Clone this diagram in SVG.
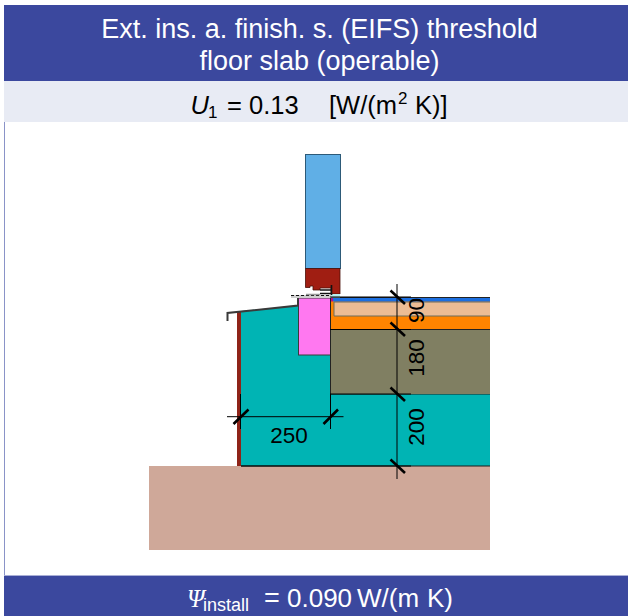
<svg xmlns="http://www.w3.org/2000/svg" width="628" height="616" viewBox="0 0 628 616">
<style>
.t{font-family:"Liberation Sans",Arial,sans-serif;font-size:27px;fill:#fff}
.k{font-family:"Liberation Sans",Arial,sans-serif;font-size:25.500px;fill:#000}
.d{font-family:"Liberation Sans",Arial,sans-serif;font-size:22.500px;fill:#000}
.l{stroke:#000;stroke-width:1;fill:none}
.x{stroke:#000;stroke-width:2.600;fill:none}
</style>
<rect width="628" height="616" fill="#fff"/>
<g id="frame">
<rect x="4" y="5" width="624" height="76" fill="#3b489e"/>
<rect x="4" y="81" width="624" height="41" fill="#e8ebf4"/>
<rect x="4" y="122" width="1" height="454" fill="#8a93c8"/>
<rect x="4" y="576" width="624" height="40" fill="#3b489e"/>
<rect x="4" y="575" width="624" height="1" fill="#a9afd6"/>
</g>
<g id="title">
<text class="t" x="319.500" y="38" text-anchor="middle">Ext. ins. a. finish. s. (EIFS) threshold</text>
<text class="t" x="319.500" y="70" text-anchor="middle">floor slab (operable)</text>
</g>
<g id="u-value">
<text class="k" x="190.500" y="114" font-style="italic">U</text>
<text class="k" x="208" y="118" style="font-size:17px">1</text>
<text class="k" x="227" y="114">= 0.13</text>
<text class="k" x="329" y="114">[W/(m</text>
<text class="k" x="398" y="104" style="font-size:17px">2</text>
<text class="k" x="415" y="114">K)]</text>
</g>
<g id="ground"><rect x="149" y="466" width="341" height="84" fill="#cfa899"/></g>
<g id="insulation-teal">
<path d="M241 311L298 305.500V355H330V394H490V466H241Z" fill="#00b4b4"/>
<path d="M241 466H490M330.500 394H490" stroke="#1d1d1d" stroke-width="1" fill="none"/>
</g>
<g id="wall-strip"><rect x="237" y="311" width="4" height="155" fill="#8e2318"/></g>
<g id="sill"><path d="M227.500 321V313L298 305.500V298" fill="none" stroke="#3a3a3a" stroke-width="2"/></g>
<g id="pink-block"><rect x="298.500" y="298" width="32" height="57" fill="#ff78f0" stroke="#3a3a3a" stroke-width="1"/></g>
<g id="floor-layers">
<rect x="330.500" y="329" width="159.500" height="65" fill="#807f62"/>
<rect x="330.500" y="298" width="159.500" height="31" fill="#ff8400"/>
<path d="M490 302H334V316H490" fill="#ecbc94" stroke="#6d6d5c" stroke-width="1"/>
<rect x="333" y="298" width="157" height="3.500" fill="#1d6fe0"/>
<path d="M330.500 297.500H490M330.500 298V394M330.500 329.500H490" stroke="#222" stroke-width="1" fill="none"/>
<rect x="331" y="298" width="2" height="3.500" fill="#b0108a"/>
</g>
<g id="window-sash">
<rect x="305.500" y="154.500" width="35" height="114" fill="#60afe6" stroke="#2d5a78" stroke-width="1"/>
<path d="M305.500 268.500H340V294H331V288H320V290H313V286H310V287.500H305.500Z" fill="#a01e12" stroke="#4a0f08" stroke-width="0.800"/>
<rect x="331" y="294" width="9" height="3.500" fill="#b6f0f0"/>
</g>
<g id="window-frame">
<path d="M291 296.500H331" stroke="#cfcfcf" stroke-width="3"/>
<path d="M291 295.500H331" stroke="#111" stroke-width="1.200" stroke-dasharray="3 2"/>
<path d="M320 290H331M320 293.500H331M331.500 285V295" stroke="#111" stroke-width="1.600" fill="none"/>
<path d="M306 294.500H320" stroke="#999" stroke-width="1.500"/>
</g>
<g id="connectors">
<path class="l" d="M397 284V479M330 297H411M330 329.500H411M330 394H411M241 466H411M227 416.700H343.500M240.500 394V429M330.500 394V429"/>
<path class="x" d="M390.500 290.500L405 304M390.500 322.500L405 336M390.500 387.500L405 401M390.500 459.500L405 473M233.500 424L248.500 409.500M323.500 424L338 409.500"/>
</g>
<g id="labels">
<text class="d" x="289" y="443" text-anchor="middle">250</text>
<text class="d" transform="translate(424 310.500) rotate(-90)" text-anchor="middle">90</text>
<text class="d" transform="translate(424 358) rotate(-90)" text-anchor="middle">180</text>
<text class="d" transform="translate(424 427) rotate(-90)" text-anchor="middle">200</text>
</g>
<g id="psi">
<text x="187" y="607" fill="#fff" style="font-family:'Liberation Serif',serif;font-size:25px;font-style:italic">Ψ</text>
<text class="t" x="203" y="611" style="font-size:18px">install</text>
<text class="t" x="264" y="607">=</text>
<text class="t" x="287" y="607" style="font-size:26px">0.090</text>
<text class="t" x="357" y="607" style="font-size:26px">W/(m</text>
<text class="t" x="427" y="607" style="font-size:26px">K)</text>
</g>
</svg>
